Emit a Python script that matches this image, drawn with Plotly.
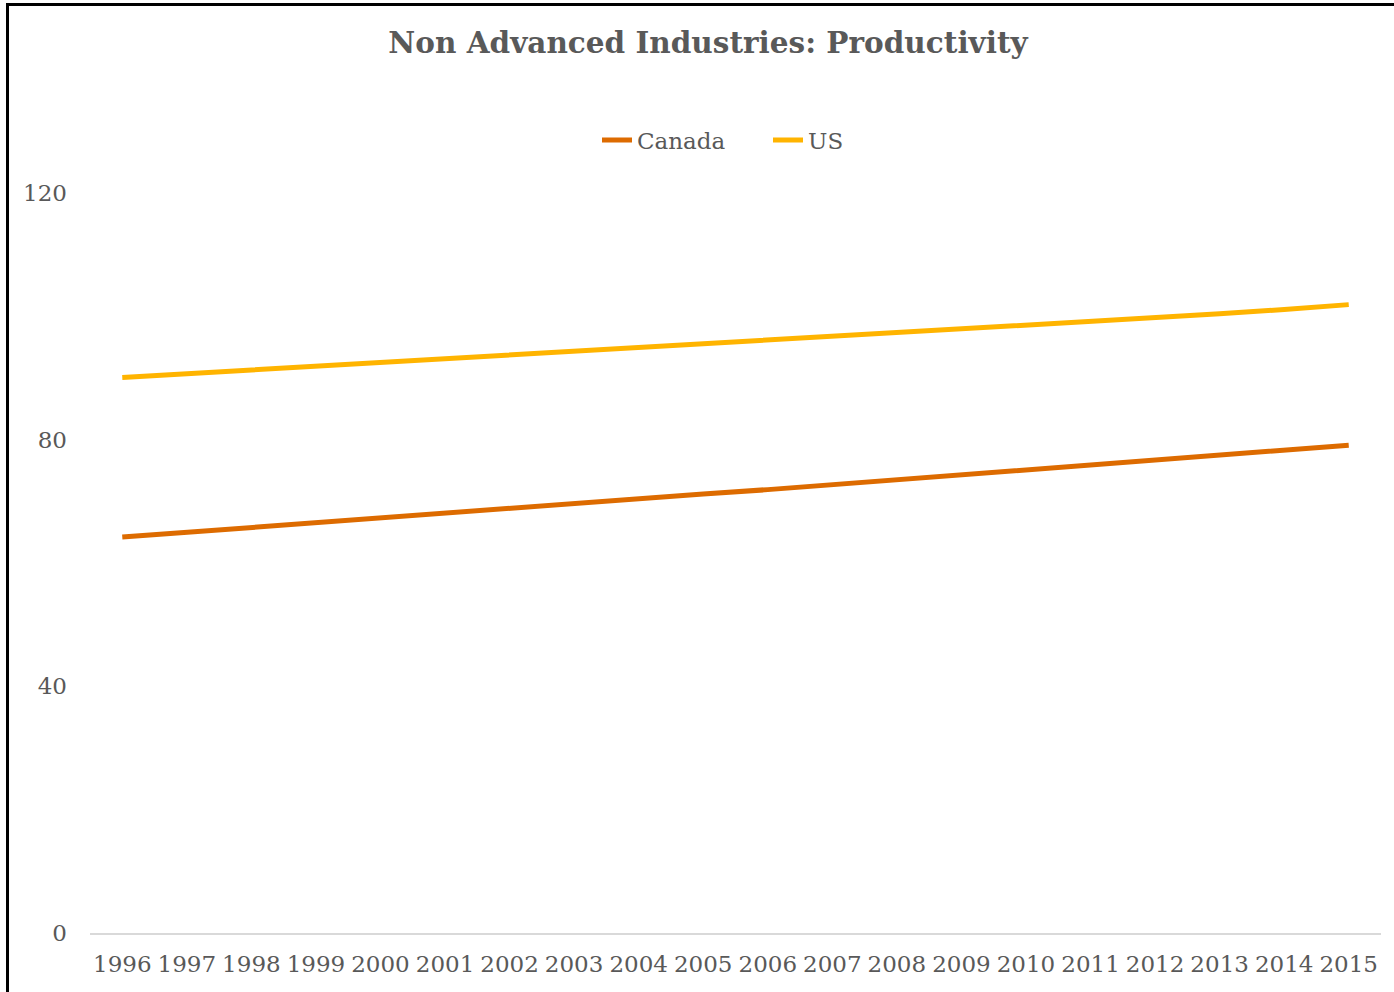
import plotly.graph_objects as go

years = [str(y) for y in range(1996, 2016)]
canada = [64.2, 65.0, 65.7, 66.5, 67.3, 68.0, 68.8, 69.6, 70.4, 71.2,
          71.9, 72.7, 73.5, 74.3, 75.1, 75.9, 76.7, 77.5, 78.3, 79.1]
us = [90.1, 90.7, 91.2, 91.8, 92.4, 93.0, 93.6, 94.2, 94.8, 95.4,
      96.0, 96.6, 97.2, 97.9, 98.5, 99.1, 99.8, 100.4, 101.1, 101.9]
y_ticks = [0, 40, 80, 120]

FONT = "DejaVu Serif"
GREY = "#595959"

fig = go.Figure()
fig.add_trace(go.Scatter(x=years, y=canada, name="Canada", mode="lines",
                         line=dict(color="#DD6B00", width=5)))
fig.add_trace(go.Scatter(x=years, y=us, name="US", mode="lines",
                         line=dict(color="#FFB400", width=5)))

W, H = 1394, 992
ml, mr, mt, mb = 90, 13, 193, 59
pw, ph = W - ml - mr, H - mt - mb

def px_to_paper_x(px):
    return (px - ml) / pw

def px_to_paper_y(py):
    return (H - mb - py) / ph

fig.update_layout(
    width=W, height=H,
    margin=dict(l=ml, r=mr, t=mt, b=mb, autoexpand=False),
    paper_bgcolor="white", plot_bgcolor="white",
    font=dict(family=FONT, color=GREY),
    title=dict(text="<b>Non Advanced Industries: Productivity</b>",
               x=708 / W, xref="container", xanchor="center",
               y=1 - 43 / H, yanchor="middle",
               font=dict(family=FONT, size=29.5, color=GREY)),
    legend=dict(orientation="h", x=px_to_paper_x(768), xanchor="center",
                y=px_to_paper_y(140), yanchor="middle",
                font=dict(family=FONT, size=23, color=GREY),
                entrywidth=126, entrywidthmode="pixels",
                bgcolor="rgba(0,0,0,0)"),
    showlegend=True,
    xaxis=dict(type="category", range=[-0.5, len(years) - 0.5],
               showgrid=False, zeroline=False, automargin=False,
               showline=True, linecolor="#d9d9d9", linewidth=1.5,
               ticks="", tickfont=dict(family=FONT, size=23, color=GREY),
               ticklabelstandoff=10, fixedrange=True),
    yaxis=dict(range=[0, 120], tickvals=y_ticks, showgrid=False,
               zeroline=False, showline=False, ticks="", automargin=False,
               tickfont=dict(family=FONT, size=23, color=GREY),
               ticklabelstandoff=22, fixedrange=True),
    shapes=[dict(type="rect", xref="paper", yref="paper",
                 x0=px_to_paper_x(7.5), x1=px_to_paper_x(1405),
                 y0=px_to_paper_y(1005), y1=px_to_paper_y(4.5),
                 line=dict(color="black", width=3), fillcolor="rgba(0,0,0,0)",
                 layer="below")],
)

fig.write_html("out.html")
